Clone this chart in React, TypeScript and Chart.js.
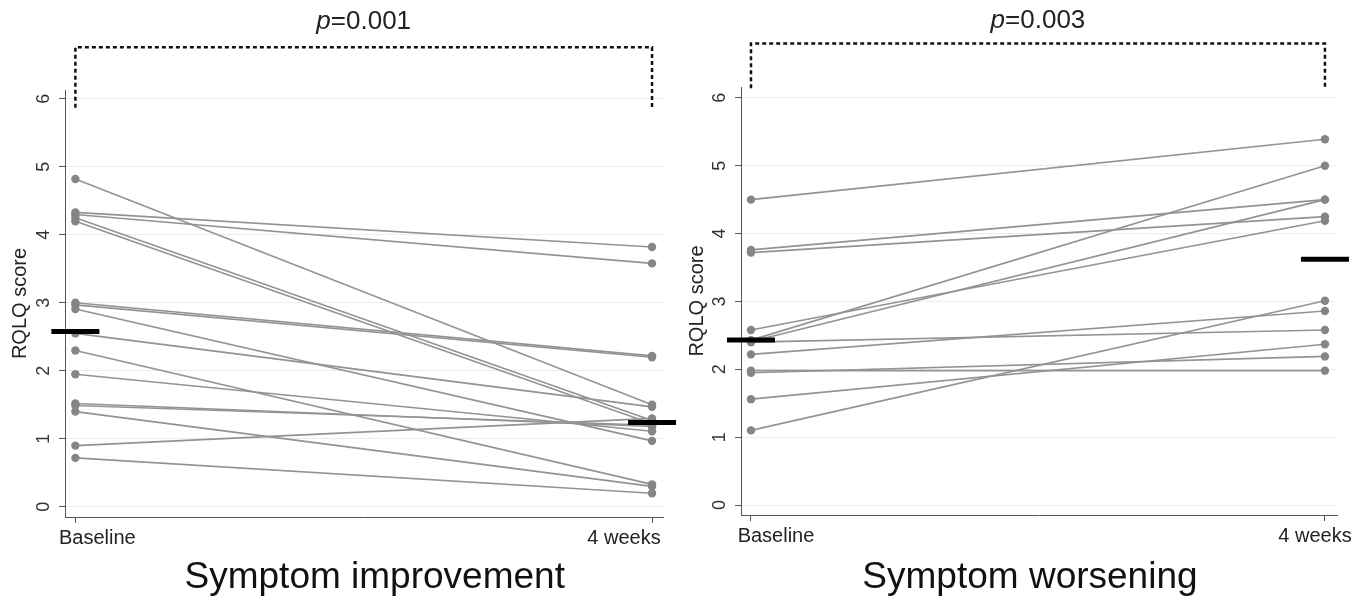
import React, { useEffect, useRef } from 'react';
import { Chart, registerables } from 'chart.js';

Chart.register(...registerables);

const FONT = "'Liberation Sans', Arial, Helvetica, sans-serif";

// ---- data ----
const timePoints = [0, 1];
const timeLabels = ['Baseline', '4 weeks'];
const yTicks = [0, 1, 2, 3, 4, 5, 6];

const improvementBaseline = [4.82, 4.33, 4.3, 4.25, 4.2, 3.0, 2.97, 2.91, 2.55, 2.3, 1.95, 1.52, 1.49, 1.4, 0.9, 0.72];
const improvementWeek4 = [1.5, 3.82, 3.58, 1.27, 1.22, 2.22, 2.2, 0.97, 1.47, 0.33, 1.11, 1.18, 1.2, 0.3, 1.3, 0.2];
const improvementMedian = [2.58, 1.24];

const worseningBaseline = [4.5, 3.76, 3.72, 2.58, 2.43, 2.41, 2.4, 2.22, 1.98, 1.95, 1.56, 1.1];
const worseningWeek4 = [5.39, 4.5, 4.25, 4.19, 5.0, 4.5, 2.58, 2.86, 1.98, 2.19, 2.37, 3.01];
const worseningMedian = [2.43, 3.62];

const panelTitles = ['Symptom improvement', 'Symptom worsening'];
const pValues = ['0.001', '0.003'];
const yAxisTitle = 'RQLQ score';

// bracket geometry in data units: [top, left leg end, right leg end]
const improvementBracket = [6.76, 5.87, 5.87];
const worseningBracket = [6.8, 6.14, 6.15];
const pTextLevel = [7.13, 7.14];

const annotationPlugin = {
  id: 'panelAnnotations',
  afterDraw(chart: any) {
    const o = chart.options.plugins.panelAnnotations;
    if (!o) return;
    const { ctx } = chart;
    const xs = chart.scales.x;
    const ys = chart.scales.y;
    const x0 = xs.getPixelForValue(timePoints[0]);
    const x1 = xs.getPixelForValue(timePoints[1]);
    ctx.save();
    // dotted bracket
    ctx.setLineDash([4, 3]);
    ctx.lineWidth = 2.5;
    ctx.strokeStyle = '#111';
    ctx.beginPath();
    ctx.moveTo(x0, ys.getPixelForValue(o.bracket[1]));
    ctx.lineTo(x0, ys.getPixelForValue(o.bracket[0]));
    ctx.lineTo(x1, ys.getPixelForValue(o.bracket[0]));
    ctx.lineTo(x1, ys.getPixelForValue(o.bracket[2]));
    ctx.stroke();
    ctx.setLineDash([]);
    // p value
    ctx.fillStyle = '#222';
    ctx.textBaseline = 'middle';
    ctx.textAlign = 'left';
    const pFontI = `italic 26px ${FONT}`;
    const pFontN = `26px ${FONT}`;
    ctx.font = pFontI;
    const wp = ctx.measureText('p').width;
    ctx.font = pFontN;
    const rest = '=' + o.p;
    const wr = ctx.measureText(rest).width;
    const cx = (x0 + x1) / 2;
    const py = ys.getPixelForValue(o.pLevel);
    const sx = cx - (wp + wr) / 2;
    ctx.font = pFontI;
    ctx.fillText('p', sx, py);
    ctx.font = pFontN;
    ctx.fillText(rest, sx + wp, py);
    // x tick labels
    ctx.font = `20px ${FONT}`;
    ctx.fillStyle = '#222';
    ctx.textAlign = 'center';
    timePoints.forEach((t, i) => {
      ctx.fillText(timeLabels[i], xs.getPixelForValue(t) + o.labelShift[i], xs.top + 21);
    });
    // panel title
    ctx.font = `37px ${FONT}`;
    ctx.fillStyle = '#111';
    ctx.fillText(o.title, cx + o.titleShift, chart.height - 23);
    ctx.restore();
  },
};

type PanelProps = {
  left: number;
  width: number;
  baseline: number[];
  week4: number[];
  median: number[];
  title: string;
  p: string;
  bracket: number[];
  pLevel: number;
  yRange: number[];
  xRange: number[];
  areaLeft: number;
  areaRight: number;
  areaTop: number;
  axisBottom: number;
  titlePad: number;
  labelShift: number[];
  titleShift: number;
};

function Panel(props: PanelProps) {
  const ref = useRef<HTMLCanvasElement | null>(null);
  useEffect(() => {
    if (!ref.current) return;
    const H = 601;
    const subjectSets = props.baseline.map((b, i) => ({
      data: [
        { x: timePoints[0], y: b },
        { x: timePoints[1], y: props.week4[i] },
      ],
      borderColor: '#939393',
      borderWidth: 1.6,
      pointRadius: 4.2,
      pointBackgroundColor: '#858585',
      pointBorderColor: '#858585',
      pointBorderWidth: 0,
      order: 1,
      clip: false as any,
    }));
    const medianSet = {
      data: timePoints.map((t, i) => ({ x: t, y: props.median[i] })),
      showLine: false,
      pointStyle: 'line' as any,
      pointRadius: 24,
      pointBorderWidth: 5,
      pointBorderColor: '#000',
      pointBackgroundColor: '#000',
      borderColor: '#000',
      order: 0,
      clip: false as any,
    };
    const chart = new Chart(ref.current, {
      type: 'line',
      data: { datasets: [medianSet, ...subjectSets] as any },
      plugins: [annotationPlugin],
      options: {
        animation: false,
        responsive: false,
        devicePixelRatio: 1,
        layout: {
          autoPadding: false,
          padding: { left: 0, right: props.width - props.areaRight, top: props.areaTop, bottom: 0 },
        },
        plugins: {
          legend: { display: false },
          tooltip: { enabled: false },
          panelAnnotations: {
            title: props.title,
            p: props.p,
            bracket: props.bracket,
            pLevel: props.pLevel,
            labelShift: props.labelShift,
            titleShift: props.titleShift,
          },
        } as any,
        scales: {
          x: {
            type: 'linear',
            min: props.xRange[0],
            max: props.xRange[1],
            afterBuildTicks: (s: any) => {
              s.ticks = timePoints.map((v) => ({ value: v }));
            },
            afterFit: (s: any) => {
              s.height = H - props.axisBottom;
            },
            ticks: { display: false },
            grid: {
              display: true,
              drawOnChartArea: false,
              drawTicks: true,
              tickLength: 6,
              tickColor: '#555',
            },
            border: { display: true, color: '#555', width: 1 },
          },
          y: {
            type: 'linear',
            min: props.yRange[0],
            max: props.yRange[1],
            afterBuildTicks: (s: any) => {
              s.ticks = yTicks.map((v) => ({ value: v }));
            },
            afterFit: (s: any) => {
              s.width = props.areaLeft;
            },
            ticks: {
              font: { family: FONT, size: 18 },
              color: '#333',
              minRotation: 90,
              maxRotation: 90,
              crossAlign: 'center',
              padding: 10,
            },
            grid: {
              color: '#ececec',
              lineWidth: 1,
              drawTicks: true,
              tickLength: 6,
              tickColor: '#555',
            },
            border: { display: true, color: '#555', width: 1 },
            title: {
              display: true,
              text: yAxisTitle,
              font: { family: FONT, size: 20 },
              color: '#222',
              padding: { top: props.titlePad, bottom: 0 },
            },
          },
        },
      } as any,
    });
    return () => chart.destroy();
  }, []);
  return (
    <canvas
      ref={ref}
      width={props.width}
      height={601}
      style={{ position: 'absolute', left: props.left, top: 0, width: props.width, height: 601 }}
    />
  );
}

export default function App() {
  return (
    <div style={{ position: 'absolute', left: 0, top: 0, width: 1365, height: 601, background: '#fff', overflow: 'hidden' }}>
      <Panel
        left={0}
        width={683}
        baseline={improvementBaseline}
        week4={improvementWeek4}
        median={improvementMedian}
        title={panelTitles[0]}
        p={pValues[0]}
        bracket={improvementBracket}
        pLevel={pTextLevel[0]}
        yRange={[-0.15, 6.13]}
        xRange={[-0.018, 1.019]}
        areaLeft={65}
        areaRight={663}
        areaTop={90}
        axisBottom={517}
        titlePad={8}
        labelShift={[22, -28]}
        titleShift={11}
      />
      <Panel
        left={683}
        width={682}
        baseline={worseningBaseline}
        week4={worseningWeek4}
        median={worseningMedian}
        title={panelTitles[1]}
        p={pValues[1]}
        bracket={worseningBracket}
        pLevel={pTextLevel[1]}
        yRange={[-0.147, 6.16]}
        xRange={[-0.0174, 1.021]}
        areaLeft={58}
        areaRight={654}
        areaTop={87}
        axisBottom={515}
        titlePad={2}
        labelShift={[25, -10]}
        titleShift={-8}
      />
    </div>
  );
}
